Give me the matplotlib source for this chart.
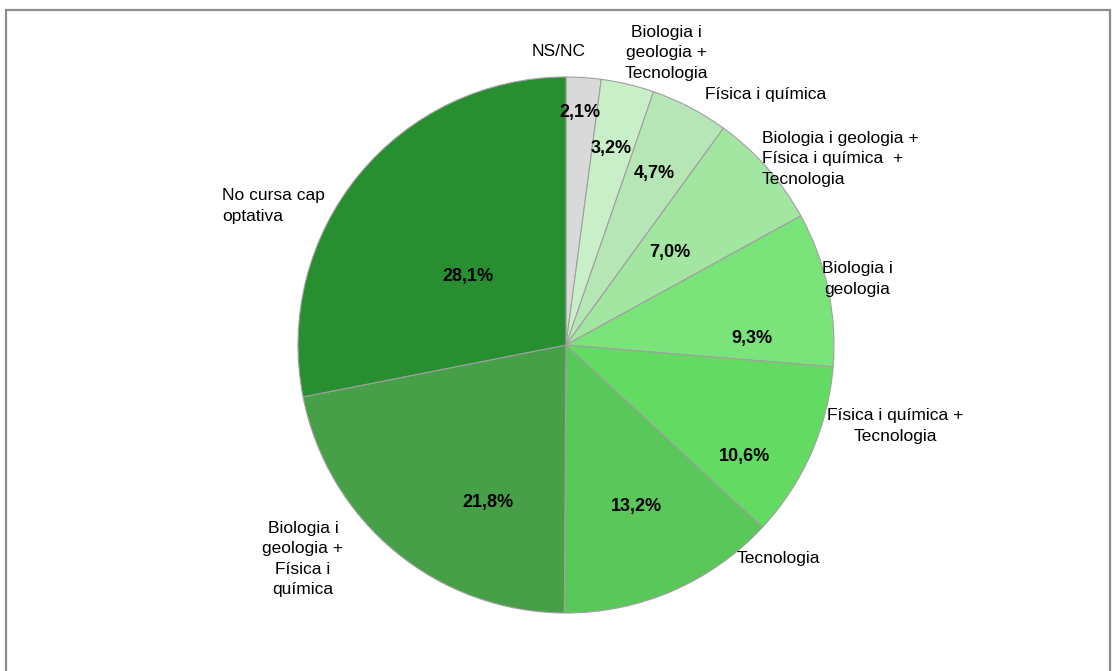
import matplotlib
matplotlib.use("Agg")
import matplotlib.pyplot as plt
from matplotlib.patches import Rectangle

plt.rcParams['font.family'] = ['Liberation Sans', 'DejaVu Sans']

categories = ["NS/NC", "Biologia i\ngeologia +\nTecnologia", "Física i química",
              "Biologia i geologia +\nFísica i química  +\nTecnologia", "Biologia i\ngeologia",
              "Física i química +\nTecnologia", "Tecnologia",
              "Biologia i\ngeologia +\nFísica i\nquímica", "No cursa cap\noptativa"]
values = [2.1, 3.2, 4.7, 7.0, 9.3, 10.6, 13.2, 21.8, 28.1]
colors = ["#d9d9d9", "#c8efc8", "#b6e6b6", "#a2e6a2", "#7ae47a", "#63db63", "#5ac75a", "#47a047", "#278f30"]

W, H = 1116, 671
fig = plt.figure(figsize=(W/100, H/100), dpi=100)
fig.patches.append(Rectangle((6/W, -0.1), (1110-6)/W, 1.1 - 10/H, transform=fig.transFigure,
                             fill=False, edgecolor="#8c8c8c", linewidth=1.6))

cx, cy, r = 566, 345, 268
ax = fig.add_axes([(cx - r)/W, 1 - (cy + r)/H, 2*r/W, 2*r/H])
wedges, _ = ax.pie(values, colors=colors, startangle=90, counterclock=False,
                   wedgeprops=dict(edgecolor="#a0a0a0", linewidth=0.8))
ax.set_xlim(-1, 1); ax.set_ylim(-1, 1); ax.set_aspect('equal'); ax.axis('off')

# percentage label pixel positions
pct_pos = [(580, 112), (611, 148), (654, 173), (670, 253), (752, 338), (744, 457), (636, 506), (488, 503), (468, 277)]
for v, (px, py) in zip(values, pct_pos):
    fig.text(px/W, 1 - py/H, f"{v:.1f}%".replace(".", ","), ha="center", va="center",
             fontsize=13, fontweight="bold")

# category label positions: (x, y, ha)
lab_pos = [(559, 51, "center"), (666, 53, "center"), (705, 95, "left"), (762, 159, "left"),
           (857, 279, "center"), (895, 426, "center"), (778, 559, "center"), (303, 559, "center"),
           (222, 206, "left")]
for c, (px, py, ha) in zip(categories, lab_pos):
    fig.text(px/W, 1 - py/H, c, ha=ha, va="center", fontsize=12.5, linespacing=1.45,
             multialignment="center" if ha == "center" else "left")

fig.savefig("out.png", dpi=100)
